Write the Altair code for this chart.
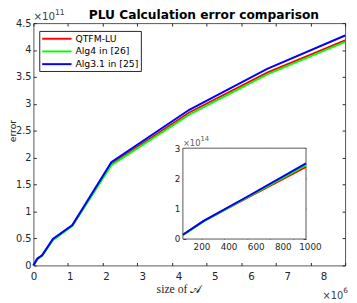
import altair as alt
import pandas as pd

# ---------------- data ----------------
SERIES = ["QTFM-LU", "Alg4 in [26]", "Alg3.1 in [25]"]
COLORS = ["#ff0000", "#00ff00", "#0000ff"]

MAIN_X = [0.0, 0.11e6, 0.25e6, 0.5625e6, 1.125e6, 2.25e6, 4.5e6, 6.75e6, 9.0e6]
MAIN_QTFM = [0.0, 0.12e11, 0.185e11, 0.48e11, 0.74e11, 1.88e11, 2.84e11, 3.58e11, 4.18e11]
MAIN_ALG4 = [0.0, 0.115e11, 0.18e11, 0.47e11, 0.735e11, 1.86e11, 2.80e11, 3.55e11, 4.15e11]
MAIN_ALG31 = [0.0, 0.124e11, 0.19e11, 0.49e11, 0.75e11, 1.915e11, 2.89e11, 3.65e11, 4.27e11]

INSET_X = [40, 220, 590, 1110]
INSET_QTFM = [0.14e14, 0.59e14, 1.34e14, 2.38e14]
INSET_ALG4 = [0.13e14, 0.58e14, 1.36e14, 2.44e14]
INSET_ALG31 = [0.14e14, 0.60e14, 1.38e14, 2.50e14]

MAIN_X_DOMAIN = [0, 9e6]
MAIN_Y_DOMAIN = [0, 4.5e11]
INSET_X_DOMAIN = [40, 1110]
INSET_Y_DOMAIN = [0, 3e14]

MAIN_X_TICKS = [i * 1e6 for i in range(10)]
MAIN_X_LABELS = [i * 1e6 for i in range(9)]
MAIN_Y_TICKS = [i * 0.5e11 for i in range(10)]
INSET_X_TICKS = [200, 400, 600, 800, 1000]
INSET_Y_TICKS = [0, 1e14, 2e14, 3e14]

TITLE = "PLU Calculation error comparison"
X_TITLE = "size of \U0001D49C"
Y_TITLE = "error"

# ---------------- tables ----------------
main_df = pd.DataFrame({
    "x": MAIN_X * 3,
    "y": MAIN_QTFM + MAIN_ALG4 + MAIN_ALG31,
    "s": [SERIES[0]] * len(MAIN_X) + [SERIES[1]] * len(MAIN_X) + [SERIES[2]] * len(MAIN_X),
})
inset_df = pd.DataFrame({
    "x": INSET_X * 3,
    "y": INSET_QTFM + INSET_ALG4 + INSET_ALG31,
    "s": [SERIES[0]] * len(INSET_X) + [SERIES[1]] * len(INSET_X) + [SERIES[2]] * len(INSET_X),
})
box_df = pd.DataFrame({"x0": [INSET_X_DOMAIN[0]], "x1": [INSET_X_DOMAIN[1]],
                       "y0": [INSET_Y_DOMAIN[0]], "y1": [INSET_Y_DOMAIN[1]]})

# ---------------- layout ----------------
W, H = 319, 248
IN_L, IN_R, IN_T, IN_B = 153, 279, 128, 221
TK = 3
AX = "#262626"
FONT = "DejaVu Sans"


def sc(domain, rng):
    return alt.Scale(domain=domain, range=rng, nice=False, zero=False)


main_x = sc(MAIN_X_DOMAIN, [0, W])
main_y = sc(MAIN_Y_DOMAIN, [H, 0])
main_xlab = sc([0, 8e6], [0, 297])
inset_x = sc(INSET_X_DOMAIN, [IN_L, IN_R])
inset_y = sc(INSET_Y_DOMAIN, [IN_B, IN_T])
inset_xlab = sc([200, 1000], [172, 283])

color = alt.Color(
    "s:N",
    scale=alt.Scale(domain=SERIES, range=COLORS),
    legend=alt.Legend(
        orient="none", legendX=6, legendY=8, title=None,
        symbolType="M-1,0H5", symbolSize=100, symbolStrokeWidth=2,
        labelFont=FONT, labelFontSize=9.5, labelColor="#000000", labelOffset=23,
        padding=2, rowPadding=2, fillColor="white", strokeColor=AX,
        cornerRadius=0,
    ),
)


def tick_axis(orient, values, offset):
    return alt.Axis(orient=orient, values=values, offset=offset, tickSize=TK,
                    labels=False, domain=False, grid=False, title=None)


box = alt.Chart(box_df).mark_rect(fill="white", stroke="#555555", strokeWidth=1).encode(
    x=alt.X("x0:Q", scale=inset_x, axis=None),
    x2="x1:Q",
    y=alt.Y("y0:Q", scale=inset_y, axis=None),
    y2="y1:Q",
)

main_lines = alt.Chart(main_df).mark_line(strokeWidth=2).encode(
    x=alt.X("x:Q", scale=main_x, axis=tick_axis("bottom", MAIN_X_TICKS, -TK)),
    y=alt.Y("y:Q", scale=main_y, axis=alt.Axis(
        orient="left", values=MAIN_Y_TICKS, offset=-TK, tickSize=TK, labelPadding=2.5,
        labelExpr="format(datum.value/1e11, '~g')", labelFontSize=10,
        labelFlush=False, domain=False, grid=False,
        title=Y_TITLE, titleFont=FONT, titleFontSize=9.5, titleFontWeight="normal",
        titleAngle=270, titleAlign="center", titleBaseline="alphabetic",
        titleX=-21.7, titleY=110)),
    color=color,
)

main_xlabels = alt.Chart(main_df).mark_point(opacity=0).encode(
    x=alt.X("x:Q", scale=main_xlab, axis=alt.Axis(
        orient="bottom", values=MAIN_X_LABELS, ticks=False, tickSize=0, domain=False,
        grid=False, labelPadding=6, labelFlush=False, labelOverlap=False,
        labelExpr="format(datum.value/1e6, '~g')", labelFontSize=10.5,
        title=X_TITLE, titleFont="Liberation Serif", titleFontSize=12,
        titleFontWeight="normal", titlePadding=2)),
    y=alt.Y("y:Q", scale=main_y, axis=None),
)

main_tr = alt.Chart(main_df).mark_point(opacity=0).encode(
    x=alt.X("x:Q", scale=main_x, axis=tick_axis("top", MAIN_X_TICKS, -TK)),
    y=alt.Y("y:Q", scale=main_y, axis=tick_axis("right", MAIN_Y_TICKS, -TK)),
)

inset_lines = alt.Chart(inset_df).mark_line(strokeWidth=2).encode(
    x=alt.X("x:Q", scale=inset_x, axis=tick_axis("bottom", INSET_X_TICKS, (IN_B - TK) - H)),
    y=alt.Y("y:Q", scale=inset_y, axis=alt.Axis(
        orient="left", values=INSET_Y_TICKS, offset=-(IN_L + TK), tickSize=TK,
        labelPadding=3, labelExpr="format(datum.value/1e14, '~g')", labelFontSize=9,
        labelFlush=False, domain=False, grid=False, title=None)),
    color=color,
)

inset_xlabels = alt.Chart(inset_df).mark_point(opacity=0).encode(
    x=alt.X("x:Q", scale=inset_xlab, axis=alt.Axis(
        orient="bottom", values=INSET_X_TICKS, offset=IN_B - H, ticks=False, tickSize=0,
        domain=False, grid=False, labelPadding=4, labelFlush=False, labelOverlap=False,
        labelExpr="'' + datum.value", labelFontSize=9, title=None)),
    y=alt.Y("y:Q", scale=inset_y, axis=None),
)

inset_tr = alt.Chart(inset_df).mark_point(opacity=0).encode(
    x=alt.X("x:Q", scale=inset_x, axis=tick_axis("top", INSET_X_TICKS, -(IN_T + TK))),
    y=alt.Y("y:Q", scale=inset_y, axis=tick_axis("right", INSET_Y_TICKS, (IN_R - TK) - W)),
)


def note(xv, yv, text, xs, ys, **kw):
    df = pd.DataFrame({"x": [xv], "y": [yv], "t": [text]})
    return alt.Chart(df).mark_text(font=FONT, baseline="alphabetic", **kw).encode(
        x=alt.X("x:Q", scale=xs, axis=None),
        y=alt.Y("y:Q", scale=ys, axis=None),
        text="t:N",
    )


notes = [
    note(MAIN_X_DOMAIN[0], MAIN_Y_DOMAIN[1], "×10", main_x, main_y,
         align="left", dy=-3, fontSize=10.5, color="#404040"),
    note(MAIN_X_DOMAIN[0], MAIN_Y_DOMAIN[1], "11", main_x, main_y,
         align="left", dx=22, dy=-8, fontSize=8, color="#404040"),
    note(MAIN_X_DOMAIN[1], MAIN_Y_DOMAIN[0], "×10", main_x, main_y,
         align="right", dx=-2, dy=34, fontSize=10, color="#404040"),
    note(MAIN_X_DOMAIN[1], MAIN_Y_DOMAIN[0], "6", main_x, main_y,
         align="left", dx=-2, dy=28, fontSize=7.5, color="#404040"),
    note(INSET_X_DOMAIN[0], INSET_Y_DOMAIN[1], "×10", inset_x, inset_y,
         align="left", dy=-2, fontSize=8.5, color="#606060"),
    note(INSET_X_DOMAIN[0], INSET_Y_DOMAIN[1], "14", inset_x, inset_y,
         align="left", dx=18, dy=-7, fontSize=7, color="#606060"),
]

chart = alt.layer(
    box, main_tr, inset_tr, main_xlabels, inset_xlabels, main_lines, inset_lines, *notes
).resolve_scale(
    x="independent", y="independent"
).properties(
    width=W, height=H,
    autosize=alt.AutoSizeParams(type="none"),
    padding={"left": 26, "top": 12, "right": 4, "bottom": 35},
    title=alt.TitleParams(TITLE, font=FONT, fontSize=12.5, fontWeight="bold",
                          color="#000000", anchor="middle", frame="group",
                          dx=15, dy=14, offset=2),
).configure_view(
    stroke="#555555", strokeWidth=1
).configure_axis(
    labelFont=FONT, labelColor=AX, tickColor=AX, tickWidth=1,
    titleFont=FONT, titleColor=AX,
)

chart.save("out.html", embed_options={"renderer": "svg", "actions": False})
